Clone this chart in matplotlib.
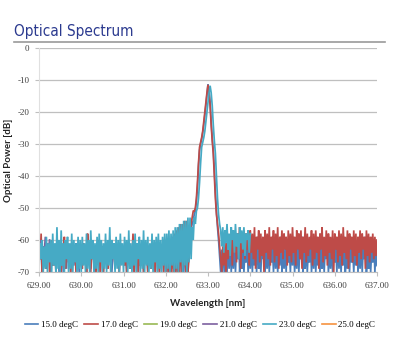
import matplotlib
matplotlib.use("Agg")
import matplotlib.pyplot as plt
from matplotlib.lines import Line2D
import numpy as np

# Wavelength grid (nm), 0.025 nm spacing from 629.000 to 637.000
wavelength = np.linspace(629.0, 637.0, 321)

# Optical power (dB) per case temperature, 20 samples (0.5 nm) per row
p_15 = [
    -60, -66, -63, -70, -62, -65, -64, -69, -61, -66, -64, -70, -62, -66, -63, -68, -62, -65, -64, -70,
    -63, -67, -62, -70, -64, -63, -69, -61, -66, -63, -70, -62, -64, -68, -63, -61, -66, -63, -70, -62,
    -63, -68, -62, -66, -63, -70, -62, -65, -63, -69, -61, -66, -63, -70, -62, -64, -67, -63, -70, -63,
    -62, -70, -64, -66, -61, -69, -63, -65, -62, -70, -64, -63, -68, -62, -66, -64, -70, -61, -67, -63,
    -64, -68, -62, -70, -63, -61, -69, -64, -66, -62, -70, -63, -65, -64, -70, -62, -68, -63, -61, -70,
    -62, -66, -64, -70, -63, -65, -69, -61, -66, -63, -70, -62, -65, -63, -70, -64, -67, -62, -70, -61,
    -62, -70, -61, -70, -60, -70, -60, -69, -59, -70, -58, -70, -58, -68, -57, -70, -57, -70, -56, -70,
    -60, -62,
    -65, -60, -57, -55, -54, -52, -51, -48, -44, -37, -32, -30, -28.5, -26.5, -24, -21,
    -18, -14.5, -11.3, -13.5, -17, -23, -28, -32, -38, -45, -51, -56, -60, -65, -70,
    -63, -70, -61, -70, -64, -70, -62, -69,
    -61, -70, -63, -69, -60, -70, -62, -66, -59, -70, -64, -69, -61, -70, -63, -67, -60, -70, -62, -69,
    -60, -70, -63, -68, -61, -70, -59, -69, -64, -70, -62, -66, -60, -70, -63, -69, -61, -70, -64, -67,
    -62, -70, -60, -69, -63, -70, -61, -68, -59, -70, -64, -69, -62, -70, -60, -67, -63, -70, -61, -68,
    -61, -70, -63, -69, -60, -70, -62, -66, -59, -70, -64, -69, -61, -70, -63, -67, -60, -70, -62, -69,
    -60, -70, -63, -68, -61, -70, -59, -69, -64, -70, -62, -66, -60, -70, -63, -69, -61, -70, -64, -67,
    -62, -70, -60, -69, -63, -70, -61, -68, -59, -70, -64, -69, -62, -70, -60, -67, -63, -70, -61, -68,
    -61, -70, -63, -69, -60, -70, -62, -66, -59, -70, -64, -69, -61, -70, -63, -67, -60, -70, -62, -68,
]
p_17 = [
    -62, -66, -58, -70, -63, -65, -61, -69, -64, -62, -70, -63, -60, -68, -64, -62, -70, -61, -66, -63,
    -63, -70, -62, -65, -59, -69, -63, -62, -67, -64, -70, -61, -65, -66, -62, -70, -63, -68, -62, -64,
    -64, -69, -61, -66, -63, -70, -58, -65, -62, -70, -63, -61, -68, -64, -70, -62, -66, -60, -70, -63,
    -62, -70, -63, -66, -61, -69, -64, -62, -70, -60, -65, -63, -69, -62, -66, -64, -70, -61, -67, -63,
    -63, -68, -62, -70, -64, -61, -69, -63, -66, -58, -70, -62, -65, -63, -70, -61, -68, -64, -62, -70,
    -61, -66, -63, -70, -62, -64, -69, -60, -66, -63, -70, -62, -65, -61, -70, -63, -67, -62, -70, -60,
    -62, -70, -61, -70, -60, -70, -59, -70, -58, -70, -57, -70, -56, -70, -55, -70, -55, -68, -54, -70,
    -54, -70,
    -66, -58, -55, -53, -51, -51, -50, -47, -42, -36, -31, -29.5, -28, -26, -23, -20,
    -17, -14, -11.5, -14, -18, -24, -29, -33, -40, -47, -52, -55, -58, -62, -66,
    -70, -62, -68, -60, -70, -61, -66, -59,
    -65, -58, -68, -57, -64, -60, -67, -58, -63, -56, -69, -59, -64, -57, -66, -58, -63, -59, -68, -57,
    -64, -58, -66, -56, -69, -59, -63, -57, -67, -58, -65, -59, -70, -57, -64, -58, -66, -56, -68, -59,
    -63, -57, -67, -58, -65, -56, -69, -59, -64, -57, -66, -58, -63, -59, -68, -57, -65, -58, -67, -56,
    -64, -59, -68, -57, -63, -58, -66, -57, -69, -59, -64, -56, -67, -58, -65, -59, -63, -57, -68, -58,
    -66, -57, -64, -59, -69, -58, -63, -56, -67, -59, -65, -57, -68, -58, -64, -59, -66, -57, -70, -58,
    -63, -59, -67, -57, -65, -58, -68, -56, -64, -59, -66, -57, -69, -58, -63, -59, -67, -57, -65, -58,
    -68, -59, -64, -57, -66, -58, -63, -59, -69, -57, -65, -58, -67, -59, -64, -58, -66, -59, -65, -60,
]
p_19 = [-62, -65, -61, -64, -63, -66, -62, -65, -61, -64, -62]
p_21 = [-61, -63, -60, -65, -62, -64, -59, -66, -61, -63, -60]
p_23 = [
    -70, -61, -66, -60, -70, -62, -69, -59, -70, -61, -67, -60, -70, -58, -68, -61, -70, -56, -69, -60,
    -70, -57, -68, -61, -70, -60, -66, -59, -70, -61, -69, -58, -70, -60, -67, -61, -70, -59, -69, -60,
    -70, -59, -68, -61, -70, -58, -69, -60, -70, -57, -66, -60, -70, -61, -69, -59, -70, -58, -67, -60,
    -70, -61, -69, -58, -70, -60, -68, -56, -70, -60, -66, -61, -70, -59, -69, -60, -70, -58, -68, -61,
    -70, -59, -67, -60, -70, -57, -69, -61, -70, -60, -68, -58, -70, -61, -66, -59, -70, -60, -69, -57,
    -70, -60, -68, -59, -70, -61, -69, -58, -70, -60, -67, -59, -70, -58, -69, -60, -70, -59, -68, -58,
    -70, -58, -69, -57, -70, -58, -68, -57, -70, -56, -69, -56, -70, -55, -67, -55, -70, -54, -68, -54,
    -70, -53, -67, -53,
    -66, -56, -60, -53, -55, -51, -50, -47, -42, -36, -31, -29.5, -28, -26, -23,
    -20, -17, -14, -11.8, -14, -18, -24, -29, -33, -40, -47, -52, -55, -57,
    -62, -56, -64, -57, -61, -55, -63, -58, -65, -56, -60, -57, -64, -55,
    -62, -58, -66, -56, -61, -57, -63, -56, -65, -58, -60, -57, -64, -58,
]
# The 25 degC trace only shows as a single vertical step at the start of the span
wl_25 = [629.00, 629.00]
p_25 = [-70, -60]

series = [
    ("15.0 degC", p_15, "#4a7ebb"),
    ("17.0 degC", p_17, "#be4b48"),
    ("19.0 degC", p_19, "#98b954"),
    ("21.0 degC", p_21, "#7d60a0"),
    ("23.0 degC", p_23, "#46aac5"),
]

x_ticks = [629, 630, 631, 632, 633, 634, 635, 636, 637]
y_ticks = [0, -10, -20, -30, -40, -50, -60, -70]

fig = plt.figure(figsize=(4.0, 3.5), dpi=100)
ax = fig.add_axes([0.0975, 0.2229, 0.845, 0.64])

handles = []
for label, vals, color in series:
    ax.plot(wavelength[:len(vals)], vals, color=color, lw=1.25, solid_joinstyle="miter")
    handles.append(Line2D([], [], color=color, lw=1.2, label=label))
ax.plot(wl_25, p_25, color="#f69240", lw=1.2)
handles.append(Line2D([], [], color="#f69240", lw=1.2, label="25.0 degC"))

ax.set_xlim(629, 637)
ax.set_ylim(-70, 0)
ax.set_xticks(x_ticks)
ax.set_xticklabels([f"{v:.2f}" for v in x_ticks])
ax.set_yticks(y_ticks)
ax.set_yticklabels([str(v) for v in y_ticks])

ax.grid(axis="y", color="#bfbfbf", lw=0.9)
ax.set_axisbelow(True)
for s in ("top", "right"):
    ax.spines[s].set_visible(False)
ax.spines["left"].set_color("#e0e0e0")
ax.spines["bottom"].set_color("#bfbfbf")
ax.tick_params(axis="both", length=3, color="#bfbfbf", labelsize=6.5,
               labelcolor="#404040", pad=4)
for lab in ax.get_xticklabels() + ax.get_yticklabels():
    lab.set_family("Liberation Serif")

ax.set_xlabel("Wavelength [nm]", fontsize=7, fontweight="bold",
              family="Lato", color="#222222", labelpad=7)
ax.set_ylabel("Optical Power [dB]", fontsize=7, fontweight="bold",
              family="Lato", color="#222222", labelpad=3)

fig.text(14 / 400, 1 - 36 / 350, "Optical Spectrum", fontsize=11,
         color="#2b3a8f", family="DejaVu Sans", fontstretch="condensed",
         va="baseline", ha="left")
fig.add_artist(Line2D([14 / 400, 385 / 400], [1 - 42 / 350, 1 - 42 / 350],
                      color="#9a9a9a", lw=1.2))

fig.legend(handles=handles, loc="center", bbox_to_anchor=(0.5, 1 - 325 / 350),
           ncol=6, frameon=False, handlelength=1.5, handletextpad=0.3,
           columnspacing=0.7, prop={"family": "Liberation Serif", "size": 6.5})

fig.savefig("out.png", dpi=100, facecolor="white")
